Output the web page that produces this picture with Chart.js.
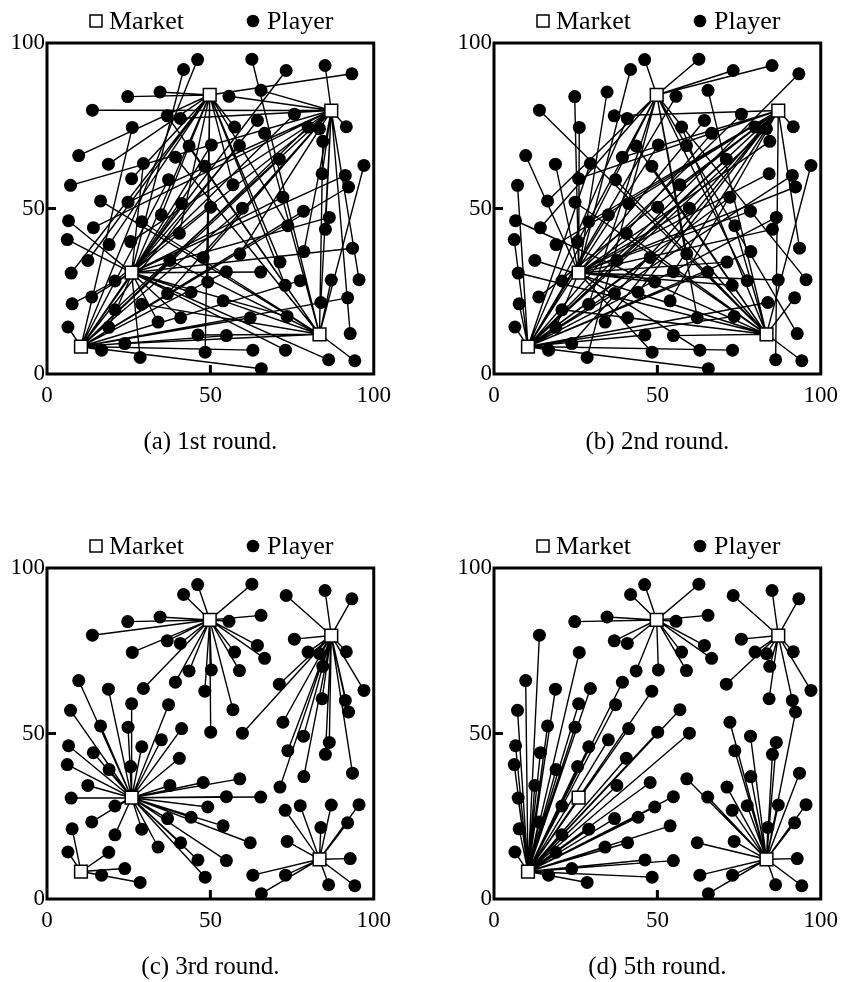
<!DOCTYPE html>
<html>
<head>
<meta charset="utf-8">
<script src="https://cdn.jsdelivr.net/npm/chart.js@4.4.0/dist/chart.umd.min.js"></script>
<style>
  body { margin: 0; background: #fff; width: 846px; height: 982px; position: relative; overflow: hidden; }
  canvas { position: absolute; }
</style>
</head>
<body>
<canvas id="round-1" width="399" height="525" style="left:0;top:0"></canvas>
<canvas id="round-2" width="399" height="525" style="left:447px;top:0"></canvas>
<canvas id="round-3" width="399" height="457" style="left:0;top:525px"></canvas>
<canvas id="round-5" width="399" height="457" style="left:447px;top:525px"></canvas>
<script>
// market locations
const marketX = [10.4, 25.9, 49.8, 87.0, 83.4];
const marketY = [8.3, 30.6, 84.3, 79.6, 12.0];

// player locations (same in every round)
const playerX = [
  46.1, 41.8, 34.6, 24.7, 13.9, 36.8, 40.8, 26.1, 43.5, 50.3,
  39.3, 29.5, 9.7, 18.8, 48.3, 7.2, 25.9, 37.2, 62.7, 73.2,
  85.1, 93.3, 65.5, 55.7, 75.7, 79.9, 83.4, 91.6, 64.4, 66.6,
  57.4, 58.9, 84.4, 71.1, 97.0, 84.2, 91.3, 56.9, 92.3, 16.4,
  24.8, 41.2, 35.0, 29.0, 6.6, 14.2, 40.5, 6.2, 19.0, 25.6,
  12.5, 37.6, 47.8, 7.4, 20.8, 13.7, 36.9, 44.1, 49.2, 7.7,
  20.8, 29.0, 34.0, 40.9, 46.2, 48.4, 6.4, 18.9, 23.8, 16.7,
  28.5, 54.9, 63.0, 73.0, 65.6, 86.2, 94.2, 92.8, 50.1, 59.8,
  72.2, 78.5, 73.7, 86.4, 85.2, 93.5, 78.6, 71.3, 59.0, 54.9,
  65.4, 72.9, 77.5, 87.0, 95.5, 83.8, 92.0, 53.9, 62.2, 73.5
];
const playerY = [
  95.0, 92.0, 85.2, 83.8, 79.7, 78.0, 77.2, 74.5, 68.9, 69.2,
  65.5, 63.6, 66.0, 63.4, 62.8, 57.0, 59.0, 58.7, 95.1, 91.7,
  93.2, 90.7, 85.7, 83.9, 78.5, 74.6, 74.1, 74.7, 76.6, 72.7,
  74.6, 69.0, 70.3, 64.9, 63.0, 60.5, 60.0, 57.2, 56.5, 52.3,
  51.9, 51.5, 48.1, 46.0, 46.3, 44.2, 42.5, 40.6, 39.1, 40.0,
  34.3, 34.3, 35.2, 30.5, 28.1, 23.3, 24.3, 24.7, 27.8, 21.2,
  19.4, 21.1, 15.7, 17.0, 11.8, 6.6, 14.2, 14.1, 9.2, 7.2,
  5.0, 11.6, 7.2, 7.2, 1.6, 4.3, 4.0, 12.2, 50.4, 50.1,
  53.4, 49.2, 44.8, 47.3, 43.7, 38.0, 37.0, 33.8, 36.3, 30.9,
  30.8, 26.8, 28.2, 28.4, 28.5, 21.6, 23.0, 22.1, 17.0, 17.4
];

// market chosen by each player (index into marketX / marketY)
const choice1st = [
  0, 1, 2, 2, 3, 4, 3, 0, 4, 1,
  4, 1, 2, 2, 0, 3, 2, 0, 4, 1,
  3, 2, 3, 3, 1, 0, 3, 3, 0, 4,
  2, 1, 4, 0, 4, 3, 1, 2, 0, 4,
  3, 0, 2, 4, 1, 3, 2, 1, 2, 3,
  2, 4, 3, 2, 3, 1, 3, 1, 2, 1,
  3, 4, 1, 1, 4, 2, 0, 2, 4, 0,
  1, 0, 0, 1, 0, 1, 4, 3, 1, 0,
  1, 0, 2, 1, 3, 1, 3, 2, 3, 0,
  1, 2, 0, 4, 3, 3, 0, 4, 0, 1
];
const choice2nd = [
  2, 1, 1, 1, 4, 3, 0, 1, 4, 0,
  3, 0, 1, 1, 4, 0, 3, 4, 2, 2,
  2, 0, 4, 0, 1, 3, 0, 3, 1, 0,
  4, 2, 1, 0, 4, 1, 0, 3, 1, 2,
  4, 3, 0, 3, 4, 2, 4, 0, 3, 2,
  4, 3, 0, 4, 2, 3, 0, 3, 1, 0,
  4, 2, 3, 4, 0, 1, 0, 1, 3, 0,
  2, 4, 1, 0, 0, 3, 4, 2, 4, 1,
  0, 1, 4, 0, 1, 3, 0, 1, 2, 3,
  0, 1, 2, 1, 2, 0, 4, 3, 2, 0
];
const choice3rd = [
  2, 2, 2, 2, 2, 2, 2, 2, 2, 2,
  2, 2, 1, 1, 2, 1, 1, 1, 2, 3,
  3, 3, 2, 2, 3, 3, 3, 3, 2, 2,
  2, 2, 3, 3, 3, 3, 3, 2, 3, 1,
  1, 1, 1, 1, 1, 1, 1, 1, 1, 1,
  1, 1, 1, 1, 1, 1, 1, 1, 1, 0,
  1, 1, 1, 1, 1, 1, 0, 0, 0, 0,
  0, 1, 4, 4, 4, 4, 4, 4, 2, 3,
  3, 3, 3, 3, 3, 3, 3, 3, 1, 1,
  1, 4, 4, 4, 4, 4, 4, 1, 1, 4
];
const choice5th = [
  2, 2, 2, 2, 0, 2, 2, 0, 2, 2,
  0, 0, 0, 0, 0, 0, 0, 0, 2, 3,
  3, 3, 2, 2, 3, 3, 3, 3, 2, 2,
  2, 2, 3, 3, 3, 3, 3, 0, 4, 0,
  0, 0, 0, 0, 0, 0, 0, 0, 0, 0,
  0, 0, 0, 0, 0, 0, 0, 0, 0, 0,
  0, 0, 0, 0, 0, 0, 0, 0, 0, 0,
  0, 0, 4, 4, 4, 4, 4, 4, 0, 0,
  4, 4, 4, 4, 4, 4, 4, 4, 4, 0,
  4, 4, 4, 4, 4, 4, 4, 0, 4, 4
];

const tickValues = [0, 50, 100];
const legendLabels = ['Market', 'Player'];
const captions = ['(a) 1st round.', '(b) 2nd round.', '(c) 3rd round.', '(d) 5th round.'];

const SERIF = '"Liberation Serif", "Times New Roman", serif';
Chart.defaults.font.family = SERIF;
Chart.defaults.color = '#000';

// frame, inner ticks, legend and caption
const decorPlugin = {
  id: 'decor',
  afterDraw(chart, args, opts) {
    const { ctx, chartArea: a, scales } = chart;
    ctx.save();
    ctx.strokeStyle = '#000';
    ctx.lineWidth = 3;
    ctx.strokeRect(a.left, a.top, a.right - a.left, a.bottom - a.top);

    const ym = scales.y.getPixelForValue(tickValues[1]);
    const xm = scales.x.getPixelForValue(tickValues[1]);
    ctx.beginPath();
    ctx.moveTo(a.left, ym); ctx.lineTo(a.left + 9, ym);
    ctx.moveTo(xm, a.bottom); ctx.lineTo(xm, a.bottom - 9);
    ctx.stroke();

    // legend
    const ly = a.top - 22;
    ctx.font = '26px ' + SERIF;
    ctx.textBaseline = 'middle';
    ctx.textAlign = 'left';
    ctx.fillStyle = '#fff';
    ctx.lineWidth = 1.5;
    ctx.fillRect(a.left + 43, ly - 6, 12, 12);
    ctx.strokeRect(a.left + 43, ly - 6, 12, 12);
    ctx.fillStyle = '#000';
    ctx.fillText(legendLabels[0], a.left + 62, ly + 1);
    ctx.beginPath();
    ctx.arc(a.left + 206, ly, 6.3, 0, Math.PI * 2);
    ctx.fill();
    ctx.fillText(legendLabels[1], a.left + 220, ly + 1);

    // caption
    ctx.font = '25px ' + SERIF;
    ctx.textAlign = 'center';
    ctx.fillText(opts.caption, (a.left + a.right) / 2, a.bottom + 68);
    ctx.restore();
  }
};

function linkDatasets(choice) {
  // one path per market: market -> player -> market -> player ...
  return marketX.map((mx, m) => {
    const path = [{ x: mx, y: marketY[m] }];
    choice.forEach((c, i) => {
      if (c === m) {
        path.push({ x: playerX[i], y: playerY[i] });
        path.push({ x: mx, y: marketY[m] });
      }
    });
    return {
      data: path, showLine: true, pointRadius: 0, borderColor: '#000',
      borderWidth: 1.4, tension: 0, order: 2
    };
  });
}

function drawRound(canvasId, choice, caption) {
  const canvas = document.getElementById(canvasId);
  const plotTop = 43, plotH = 331;
  const axisH = canvas.height - plotTop - plotH;
  const players = playerX.map((x, i) => ({ x, y: playerY[i] }));
  const markets = marketX.map((x, i) => ({ x, y: marketY[i] }));

  new Chart(canvas, {
    type: 'scatter',
    data: {
      datasets: [
        ...linkDatasets(choice),
        { data: players, pointStyle: 'circle', pointRadius: 6.5, backgroundColor: '#000', borderWidth: 0, order: 1 },
        { data: markets, pointStyle: 'rect', pointRadius: 9, backgroundColor: '#fff', borderColor: '#000', borderWidth: 1.5, order: 0 }
      ]
    },
    options: {
      responsive: false,
      animation: false,
      events: [],
      layout: { padding: { top: plotTop, right: 20, left: 0, bottom: 0 } },
      plugins: {
        legend: { display: false },
        tooltip: { enabled: false },
        decor: { caption }
      },
      scales: {
        x: {
          min: 0, max: 100,
          grid: { display: false, drawTicks: false },
          border: { display: false },
          afterBuildTicks: s => { s.ticks = tickValues.map(v => ({ value: v })); },
          ticks: { autoSkip: false, maxRotation: 0, padding: 8, font: { size: 23 } },
          afterFit: s => { s.height = axisH; }
        },
        y: {
          min: 0, max: 100,
          grid: { display: false, drawTicks: false },
          border: { display: false },
          afterBuildTicks: s => { s.ticks = tickValues.map(v => ({ value: v })); },
          ticks: { autoSkip: false, padding: 2, font: { size: 23 } },
          afterFit: s => { s.width = 47; }
        }
      }
    },
    plugins: [decorPlugin]
  });
}

drawRound('round-1', choice1st, captions[0]);
drawRound('round-2', choice2nd, captions[1]);
drawRound('round-3', choice3rd, captions[2]);
drawRound('round-5', choice5th, captions[3]);
</script>
</body>
</html>
